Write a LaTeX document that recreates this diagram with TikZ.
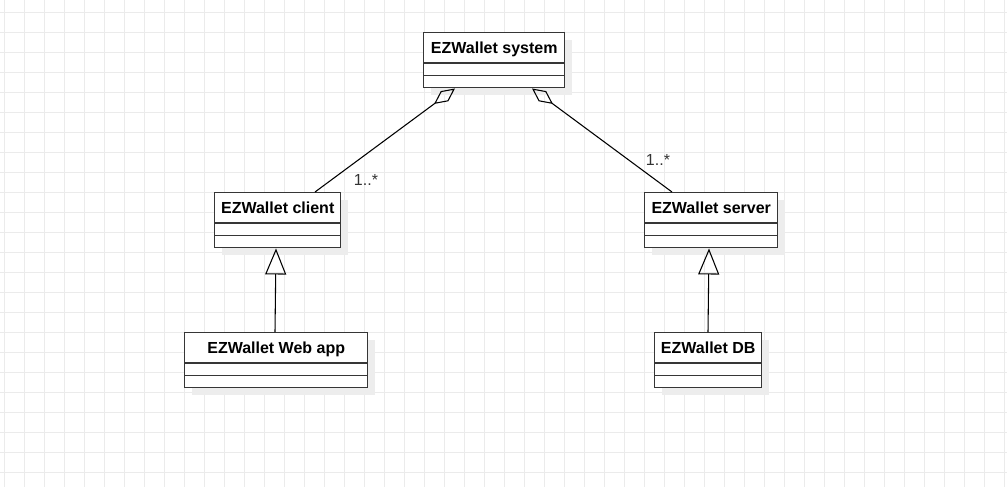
\documentclass[tikz,border=0pt]{standalone}
\usepackage{fontspec}
\setmainfont{Liberation Sans}
\usetikzlibrary{arrows.meta}
\definecolor{gridc}{HTML}{EBEBEB}
\definecolor{shadowc}{HTML}{EDEDED}
\definecolor{boxc}{HTML}{363636}
\definecolor{labc}{HTML}{333333}
\tikzset{
  gridline/.style={draw=gridc, line width=0.7pt},
  classbox/.style={draw=boxc, fill=white, line width=1.1pt, inner sep=0pt, anchor=north west, minimum height=41.25pt},
  divline/.style={draw=boxc, line width=1.1pt},
  classtitle/.style={font=\bfseries\fontsize{12pt}{14pt}\selectfont, text=black, inner sep=0pt, anchor=base},
  mult/.style={font=\fontsize{12pt}{14pt}\selectfont, text=labc},
  aggr/.style={draw=black, line width=0.8pt, {Diamond[open, length=19.5pt, width=9.5pt, line width=0.8pt]}-},
  gener/.style={draw=black, line width=0.8pt, -{Triangle[open, length=19.5pt, width=15.75pt, line width=0.8pt]}}
}
\newcommand{\umlclass}[6]{%
  \fill[shadowc] (#2+8,#3+8) rectangle ++(#4,55);
  \node[classbox, minimum width={#4*0.75pt}] (#1) at (#2,#3) {};
  \draw[divline] ([yshift={-31*0.75pt}]#1.north west) -- ([yshift={-31*0.75pt}]#1.north east);
  \draw[divline] ([yshift={-43.5*0.75pt}]#1.north west) -- ([yshift={-43.5*0.75pt}]#1.north east);
  \node[classtitle] (#1-t) at ([yshift={-21.5*0.75pt}]#1.north) {#6};
}
\begin{document}
\begin{tikzpicture}[x=0.75pt, y=-0.75pt]
\useasboundingbox (0,0) rectangle (1007,487);
\fill[white] (0,0) rectangle (1007,487);
\foreach \x in {4,24,...,1004} \draw[gridline] (\x,0) -- (\x,487);
\foreach \y in {12,32,...,480} \draw[gridline] (0,\y) -- (1007,\y);

\umlclass{sys}{423}{32}{141}{55}{EZWallet system}
\umlclass{client}{214}{192}{126}{55}{EZWallet client}
\umlclass{server}{644}{192}{133}{55}{EZWallet server}
\umlclass{web}{184}{332}{183}{55}{EZWallet Web app}
\umlclass{db}{654}{332}{107}{55}{EZWallet DB}

\draw[aggr] ([xshift={32*0.75pt}]sys.south west) -- ([xshift={101*0.75pt}]client.north west);
\draw[aggr] ([xshift={109*0.75pt}]sys.south west) -- ([xshift={28*0.75pt}]server.north west);
\draw[gener] ([xshift={91*0.75pt}]web.north west) -- ([xshift={62*0.75pt}]client.south west);
\draw[gener] ([xshift={54*0.75pt}]db.north west) -- ([xshift={65*0.75pt}]server.south west);

\node[mult] (m1) at (366,180) {1..*};
\node[mult] (m2) at (658,160) {1..*};
\end{tikzpicture}
\end{document}
